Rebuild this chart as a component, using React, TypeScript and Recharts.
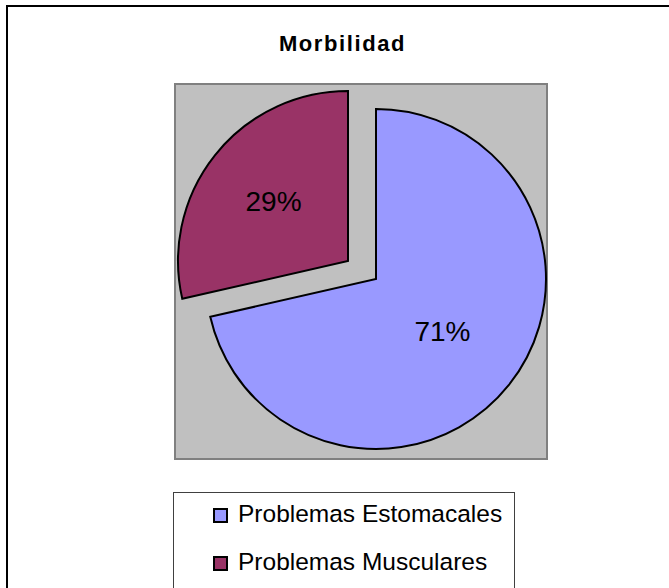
import { PieChart, Pie, Cell, Legend } from "recharts";

const CATEGORIES = ["Problemas Estomacales", "Problemas Musculares"];
const VALUES = [25, 10];
const COLORS = ["#9999FF", "#993366"];
const TITLE = "Morbilidad";

const data = CATEGORIES.map((name, i) => ({ name, value: VALUES[i] }));

const FONT = "'Liberation Sans', Arial, sans-serif";
const RADIAN = Math.PI / 180;

// each pie layer shows one slice; the second slice is pulled out
const makeLabel = (show: number, ratio: number) => (props: any) => {
  const { cx, cy, midAngle, outerRadius, percent, index } = props;
  if (index !== show) return <g />;
  const r = outerRadius * ratio;
  const x = cx + r * Math.cos(-midAngle * RADIAN);
  const y = cy + r * Math.sin(-midAngle * RADIAN);
  return (
    <text
      x={x}
      y={y}
      textAnchor="middle"
      dominantBaseline="central"
      fill="#000"
      fontSize={28}
      fontFamily={FONT}
    >
      {`${Math.round(percent * 100)}%`}
    </text>
  );
};

const LegendBox = () => (
  <div
    style={{
      width: 342,
      height: 110,
      border: "1px solid #404040",
      boxSizing: "border-box",
      position: "relative",
      background: "#fff",
      fontFamily: FONT,
    }}
  >
    {CATEGORIES.map((name, i) => (
      <div key={name}>
        <div
          style={{
            position: "absolute",
            left: 39,
            top: 15 + i * 48,
            width: 15,
            height: 15,
            boxSizing: "border-box",
            border: "2px solid #000",
            background: COLORS[i],
          }}
        />
        <div
          style={{
            position: "absolute",
            left: 64,
            top: 9 + i * 48,
            fontSize: 24.5,
            lineHeight: 1,
            whiteSpace: "nowrap",
            color: "#000",
          }}
        >
          {name}
        </div>
      </div>
    ))}
  </div>
);

export default function App() {
  return (
    <div
      style={{
        position: "absolute",
        left: 0,
        top: 0,
        width: 669,
        height: 588,
        overflow: "hidden",
        background: "#fff",
        fontFamily: FONT,
      }}
    >
      <div
        style={{
          position: "absolute",
          left: 6,
          top: 5,
          width: 720,
          height: 720,
          borderTop: "2px solid #000",
          borderLeft: "2px solid #000",
        }}
      />
      <div
        style={{
          position: "absolute",
          left: 0,
          top: 33,
          width: 685,
          textAlign: "center",
          fontSize: 22,
          fontWeight: "bold",
          lineHeight: 1,
          letterSpacing: 1.6,
        }}
      >
        {TITLE}
      </div>
      <div
        style={{
          position: "absolute",
          left: 174,
          top: 83,
          width: 374,
          height: 377,
          boxSizing: "border-box",
          background: "#C0C0C0",
          border: "2px solid #808080",
        }}
      />
      <div style={{ position: "absolute", left: 0, top: 0 }}>
        <PieChart width={669} height={588} margin={{ top: 0, right: 0, bottom: 0, left: 0 }}>
          <Pie
            data={data}
            dataKey="value"
            nameKey="name"
            cx={376}
            cy={279}
            outerRadius={170}
            startAngle={90}
            endAngle={-270}
            stroke="#000"
            strokeWidth={2}
            label={makeLabel(0, 0.5)}
            labelLine={false}
            isAnimationActive={false}
            legendType="none"
          >
            {data.map((entry, i) => (
              <Cell
                key={`a-${entry.name}`}
                fill={i === 0 ? COLORS[0] : "none"}
                stroke={i === 0 ? "#000" : "none"}
              />
            ))}
          </Pie>
          <Pie
            data={data}
            dataKey="value"
            nameKey="name"
            cx={348}
            cy={261}
            outerRadius={170}
            startAngle={90}
            endAngle={-270}
            stroke="#000"
            strokeWidth={2}
            label={makeLabel(1, 0.56)}
            labelLine={false}
            isAnimationActive={false}
            legendType="none"
          >
            {data.map((entry, i) => (
              <Cell
                key={`b-${entry.name}`}
                fill={i === 1 ? COLORS[1] : "none"}
                stroke={i === 1 ? "#000" : "none"}
              />
            ))}
          </Pie>
          <Legend
            content={() => <LegendBox />}
            wrapperStyle={{ left: 173, top: 492, width: 342 }}
          />
        </PieChart>
      </div>
    </div>
  );
}
